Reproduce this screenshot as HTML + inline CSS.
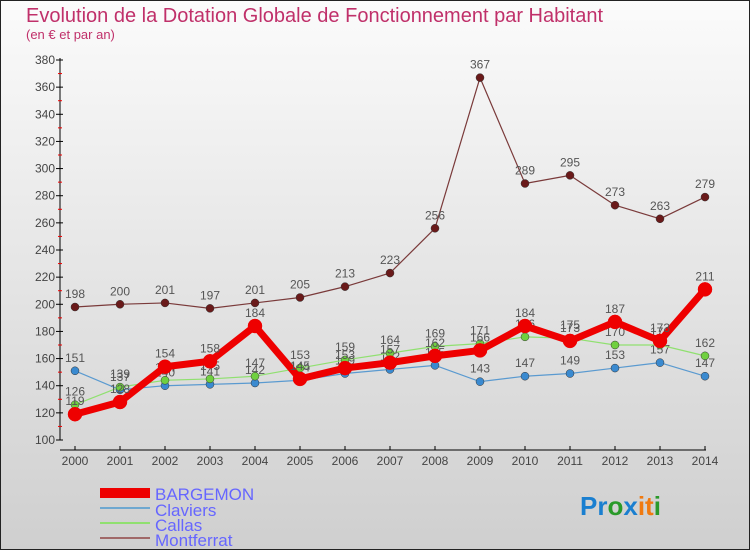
<!DOCTYPE html>
<html><head><meta charset="utf-8"><style>
body{margin:0;width:750px;height:550px;overflow:hidden}
svg{display:block;font-family:"Liberation Sans",sans-serif}
</style></head><body>
<svg id="c" width="750" height="550">
<defs><linearGradient id="bg" x1="0" y1="0" x2="0" y2="1"><stop offset="0" stop-color="#fbfbfb"/><stop offset="1" stop-color="#cfcfcf"/></linearGradient></defs>
<rect x="0.5" y="0.5" width="749" height="549" fill="url(#bg)" stroke="#222"/>
<text x="26" y="22" font-size="20" fill="#c0306a">Evolution de la Dotation Globale de Fonctionnement par Habitant</text>
<text x="26" y="39" font-size="13" fill="#c0306a">(en € et par an)</text>
<g id="axes"></g><g id="series"></g>
<g>
<rect x="100" y="488" width="50" height="10" fill="#e00"/>
<text x="155" y="500" font-size="17" fill="#6666ff">BARGEMON</text>
<line x1="100" y1="508" x2="150" y2="508" stroke="#6fa8d0" stroke-width="2"/>
<text x="155" y="516" font-size="17" fill="#6666ff">Claviers</text>
<line x1="100" y1="523" x2="150" y2="523" stroke="#90e070" stroke-width="2"/>
<text x="155" y="531" font-size="17" fill="#6666ff">Callas</text>
<line x1="100" y1="538" x2="150" y2="538" stroke="#a06868" stroke-width="2"/>
<text x="155" y="546" font-size="17" fill="#6666ff">Montferrat</text>
</g>
<text x="580" y="515" font-size="26" font-weight="bold"><tspan fill="#1a7fd0">Pr</tspan><tspan fill="#2a9a2a">o</tspan><tspan fill="#1a7fd0">x</tspan><tspan fill="#f07a10">it</tspan><tspan fill="#2a9a2a">i</tspan></text>
</svg>
<script>
const years=[2000,2001,2002,2003,2004,2005,2006,2007,2008,2009,2010,2011,2012,2013,2014];
const yTicks=[100,120,140,160,180,200,220,240,260,280,300,320,340,360,380];
const bargemon=[119,128,154,158,184,145,153,157,162,166,184,173,187,173,211];
const claviers=[151,137,140,141,142,144,149,152,155,143,147,149,153,157,147];
const callas=[126,139,144,145,147,153,159,164,169,171,176,175,170,170,162];
const montferrat=[198,200,201,197,201,205,213,223,256,367,289,295,273,263,279];
const NS="http://www.w3.org/2000/svg";
const X=i=>75+i*45, Y=v=>440-(v-100)*380/280;
function mk(t,a,p){const e=document.createElementNS(NS,t);for(const k in a)e.setAttribute(k,a[k]);p.appendChild(e);return e;}
const ax=document.getElementById('axes');
let l=mk('line',{x1:60,y1:58,x2:60,y2:440,stroke:'#000'},ax);

l=mk('line',{x1:60,y1:450,x2:706,y2:450,stroke:'#000'},ax);

yTicks.forEach(v=>{const y=Y(v);
 mk('line',{x1:56,y1:y,x2:63,y2:y,stroke:'#000'},ax);
 if(v<380) mk('line',{x1:58,y1:Y(v+10),x2:62,y2:Y(v+10),stroke:'#e00'},ax);
 const t=mk('text',{x:55,y:y+4,'font-size':12,fill:'#444','text-anchor':'end'},ax);t.textContent=v;
 });
years.forEach((yr,i)=>{mk('line',{x1:X(i),y1:446,x2:X(i),y2:450,stroke:'#000'},ax);
 const t=mk('text',{x:X(i),y:465,'font-size':12,fill:'#444','text-anchor':'middle'},ax);t.textContent=yr;
 });
const sg=document.getElementById('series');
function draw(d,name,col,w,r,mcol){
 const g=mk('g',{},sg);
 
 const p=mk('polyline',{points:d.map((v,i)=>X(i)+','+Y(v)).join(' '),fill:'none',stroke:col,'stroke-width':w,'stroke-linejoin':'round'},g);
 
 d.forEach((v,i)=>{const c=mk('circle',{cx:X(i),cy:Y(v),r:r,fill:mcol,stroke:col==='#e00'?'#e00':'#333','stroke-width':0.5},g);
  
  const t=mk('text',{x:X(i),y:Y(v)-9,'font-size':12,fill:'#555','text-anchor':'middle'},g);t.textContent=v;
  });
}
draw(montferrat,'montferrat','#7a3a3a',1.2,4,'#6a1a1a');
draw(claviers,'claviers','#5a9ad0',1.2,4,'#3a8ad0');
draw(callas,'callas','#90e070',1.2,4,'#70d040');
draw(bargemon,'bargemon','#e00',7,7,'#e00');
</script>
</body></html>
